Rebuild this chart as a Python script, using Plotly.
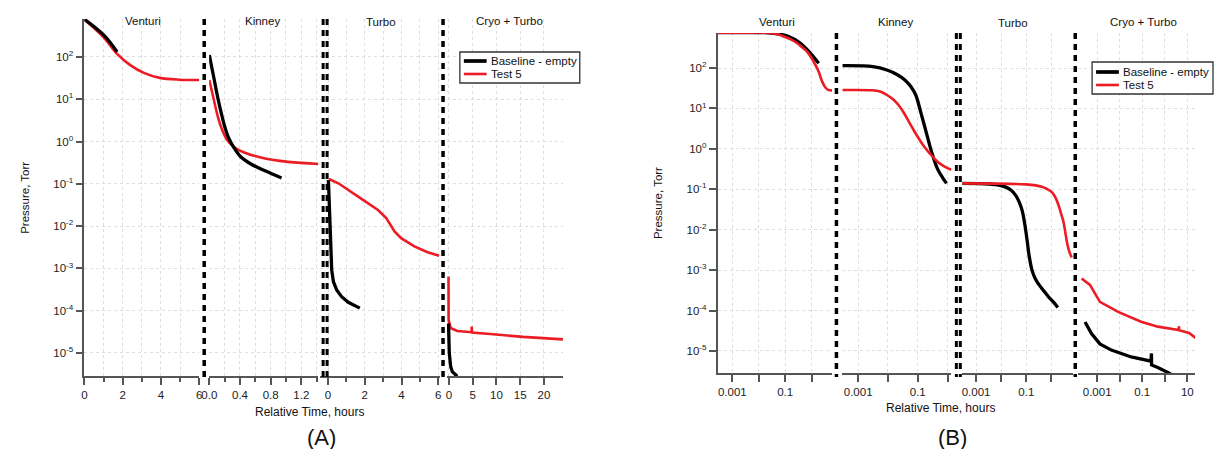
import plotly.graph_objects as go

W, H = 1217, 449

# ---------------- data, panel (A): linear time axes ----------------
a_vent_base_t = [0.0, 1.04, 1.71]
a_vent_base_p = [780, 320, 132]
a_vent_test_t = [0.0, 1.04, 1.71, 2.38, 3.11, 3.94, 4.97, 6.0]
a_vent_test_p = [760, 280, 118, 65, 42, 32, 29, 28.5]

a_kin_base_t = [0.0, 0.052, 0.103, 0.155, 0.206, 0.258, 0.323, 0.413, 0.542, 0.735, 0.942]
a_kin_base_p = [111, 37.5, 12.6, 4.74, 2.1, 1.15, 0.71, 0.43, 0.295, 0.20, 0.138]
a_kin_test_t = [0.0, 0.039, 0.077, 0.116, 0.168, 0.232, 0.323, 0.439, 0.645, 1.03, 1.43]
a_kin_test_p = [28.6, 14.1, 6.95, 3.6, 1.88, 1.09, 0.745, 0.567, 0.432, 0.33, 0.295]

a_turbo_base_t = [0.02, 0.09, 0.14, 0.2, 0.29, 0.47, 0.74, 1.1, 1.73]
a_turbo_base_p = [0.123, 0.0166, 2.75e-3, 9.1e-4, 4.9e-4, 3.1e-4, 2.14e-4, 1.58e-4, 1.15e-4]
a_turbo_test_t = [0.05, 0.56, 1.64, 2.72, 3.17, 3.62, 3.98, 4.70, 5.42, 6.05]
a_turbo_test_p = [0.13, 0.103, 0.050, 0.024, 0.0154, 0.0075, 0.0052, 0.0033, 0.0024, 0.0020]

a_cryo_base_t = [-0.1, 0.06, 0.35, 0.69, 1.73]
a_cryo_base_p = [5.0e-5, 1.0e-5, 4.8e-6, 3.6e-6, 2.8e-6]
a_cryo_test_t = [-0.1, -0.08, 0.35, 1.73, 4.75, 4.8, 4.85, 8.7, 15.6, 24.0]
a_cryo_test_p = [6.4e-4, 6.0e-5, 3.9e-5, 3.3e-5, 3.1e-5, 4.2e-5, 3.05e-5, 2.8e-5, 2.4e-5, 2.1e-5]

# ---------------- data, panel (B): log time axes ----------------
b_vent_base_t = [2.9e-4, 3.2e-3, 0.0162, 0.0513, 0.123, 0.38, 0.91, 1.86]
b_vent_base_p = [750, 750, 752, 700, 617, 410, 231, 131]
b_vent_test_t = [2.9e-4, 3.2e-3, 0.0162, 0.0513, 0.0912, 0.162, 0.288, 0.437, 0.684,
                 1.20, 1.86, 2.51, 3.31, 4.42, 5.89]
b_vent_test_p = [750, 750, 748, 692, 596, 513, 410, 324, 252, 143, 81, 46, 33, 28.5, 28]

b_kin_base_t = [2.93e-4, 3.16e-3, 9.27e-3, 0.02, 0.0369, 0.0585, 0.0857, 0.126, 0.2,
                0.293, 0.465, 0.681, 0.927]
b_kin_base_p = [114, 108, 89, 69, 50.5, 34.8, 21.5, 8.1, 2.32, 0.83, 0.315, 0.195, 0.14]
b_kin_test_t = [2.93e-4, 2.93e-3, 5.41e-3, 9.27e-3, 0.0158, 0.0251, 0.0369, 0.0541,
                0.0794, 0.117, 0.171, 0.251, 0.369, 0.541, 0.857, 1.36]
b_kin_test_p = [28.5, 28.1, 26.2, 21.5, 16.1, 11.0, 7.06, 4.28, 2.61, 1.65, 1.09, 0.774,
                0.565, 0.437, 0.355, 0.304]

b_turbo_base_t = [2.8e-4, 3.27e-3, 8.11e-3, 0.0153, 0.0242, 0.0371, 0.0501, 0.0676,
                  0.0865, 0.107, 0.130, 0.168, 0.225, 0.309, 0.488, 0.767, 1.21, 1.79]
b_turbo_base_p = [0.140, 0.135, 0.127, 0.113, 0.0955, 0.0718, 0.051, 0.0305, 0.0138,
                  5.53e-3, 2.22e-3, 1.0e-3, 6.17e-4, 4.5e-4, 3.11e-4, 2.18e-4, 1.61e-4, 1.19e-4]
b_turbo_test_t = [2.8e-4, 8.11e-3, 0.0946, 0.236, 0.418, 0.64, 1.04, 1.45, 1.91, 2.39,
                  3.01, 3.61, 4.32, 5.19, 6.4]
b_turbo_test_p = [0.140, 0.138, 0.132, 0.125, 0.115, 0.103, 0.0853, 0.0624, 0.0406,
                  0.0258, 0.0157, 8.24e-3, 4.31e-3, 2.84e-3, 2.06e-3]

b_cryo_base_t = [2.9e-4, 5.6e-4, 1.32e-3, 4.27e-3, 0.0324, 0.245, 0.257, 0.26, 0.49, 1.86]
b_cryo_base_p = [5.2e-5, 2.7e-5, 1.5e-5, 1.05e-5, 7.1e-6, 5.6e-6, 8.7e-6, 4.5e-6, 3.9e-6, 2.7e-6]
b_cryo_test_t = [2.04e-4, 4.8e-4, 1.32e-3, 8.5e-3, 0.089, 0.49, 4.17, 4.27, 4.32, 12.0, 23.4]
b_cryo_test_p = [6.2e-4, 4.3e-4, 1.64e-4, 9.3e-5, 5.3e-5, 4.0e-5, 3.3e-5, 4.1e-5, 3.25e-5, 2.8e-5, 2.1e-5]

segment_names = ["Venturi", "Kinney", "Turbo", "Cryo + Turbo"]
series_names = ["Baseline - empty", "Test 5"]
y_tick_vals = [1e-5, 1e-4, 1e-3, 1e-2, 1e-1, 1e0, 1e1, 1e2]
y_tick_text = ["10<sup>-5</sup>", "10<sup>-4</sup>", "10<sup>-3</sup>", "10<sup>-2</sup>",
               "10<sup>-1</sup>", "10<sup>0</sup>", "10<sup>1</sup>", "10<sup>2</sup>"]
b_x_label_vals = [0.001, 0.1, 10]
b_x_label_text = ["0.001", "0.1", "10"]
b_x_minor_vals = [0.01, 1]

# ---------------- layout constants (pixels) ----------------
FONT = "Liberation Sans, Arial, sans-serif"
BLACK = "#000000"
RED = "#ec1c24"
AX = "#555555"
GRID = "#dedede"
BW_BASE, BW_TEST = 3.3, 2.6

A_XDOM = [(77, 193), (203, 313), (315, 436), (443, 560)]
A_YDOM = (19, 376)
B_XDOM = [(716, 832), (842, 952), (963, 1075), (1080, 1198)]
B_YDOM = (33, 373)
A_SEP = [198, 318, 322, 439]
B_SEP = [836, 957, 961, 1077]
A_LEG = dict(box=(456, 52, 577, 83), sx=(460, 483), tx=486, rows=(61, 74))
B_LEG = dict(box=(1094, 62, 1216, 94), sx=(1098, 1121), tx=1124, rows=(72, 85))


def fx(p):
    return p / W


def fy(p):
    return 1 - p / H


fig = go.Figure()

a_data = [
    (a_vent_base_t, a_vent_base_p, a_vent_test_t, a_vent_test_p, "spline"),
    (a_kin_base_t, a_kin_base_p, a_kin_test_t, a_kin_test_p, "spline"),
    (a_turbo_base_t, a_turbo_base_p, a_turbo_test_t, a_turbo_test_p, "linear"),
    (a_cryo_base_t, a_cryo_base_p, a_cryo_test_t, a_cryo_test_p, "linear"),
]
b_data = [
    (b_vent_base_t, b_vent_base_p, b_vent_test_t, b_vent_test_p, "spline"),
    (b_kin_base_t, b_kin_base_p, b_kin_test_t, b_kin_test_p, "spline"),
    (b_turbo_base_t, b_turbo_base_p, b_turbo_test_t, b_turbo_test_p, "spline"),
    (b_cryo_base_t, b_cryo_base_p, b_cryo_test_t, b_cryo_test_p, "linear"),
]


def add_pair(xa, ya, seg, base_on_top):
    bt, bp, tt, tp, shp = seg
    base = go.Scatter(x=bt, y=bp, mode="lines", name=series_names[0],
                      line=dict(color=BLACK, width=BW_BASE, shape=shp, smoothing=1.0),
                      xaxis=xa, yaxis=ya, showlegend=False)
    test = go.Scatter(x=tt, y=tp, mode="lines", name=series_names[1],
                      line=dict(color=RED, width=BW_TEST, shape=shp, smoothing=1.0),
                      xaxis=xa, yaxis=ya, showlegend=False)
    if base_on_top:
        fig.add_trace(test)
        fig.add_trace(base)
    else:
        fig.add_trace(base)
        fig.add_trace(test)


for i, seg in enumerate(a_data):
    add_pair("x" if i == 0 else f"x{i+1}", "y", seg, True)
for i, seg in enumerate(b_data):
    add_pair(f"x{i+5}", "y2", seg, False)

tickfont = dict(family=FONT, size=11.5, color="#222222")
common = dict(showline=True, linecolor=AX, linewidth=1.5, ticks="outside", ticklen=7,
              tickwidth=1.5, tickcolor=AX, tickfont=tickfont, showgrid=True,
              gridcolor=GRID, griddash="dot", gridwidth=1, zeroline=False,
              fixedrange=True)


def minor(dt=None, vals=None, length=4):
    m = dict(ticks="outside", ticklen=length, tickwidth=1.5, tickcolor=AX,
             showgrid=True, gridcolor=GRID, griddash="dot", gridwidth=1)
    if vals is not None:
        m.update(tickmode="array", tickvals=vals)
    else:
        m.update(dtick=dt)
    return m


lay = {}
a_specs = [
    dict(range=[-0.005, 6.005], tick0=0, dtick=2, minor=minor(1)),
    dict(range=[-0.002, 1.42], tick0=0, dtick=0.4, tickformat=".1f", minor=minor(0.2)),
    dict(range=[-0.43, 6.1], tick0=0, dtick=2, minor=minor(1)),
    dict(range=[-0.42, 24.0], tick0=0, dtick=5),
]
for i, spec in enumerate(a_specs):
    key = "xaxis" if i == 0 else f"xaxis{i+1}"
    d = dict(common)
    d.update(spec)
    d.update(domain=[fx(A_XDOM[i][0]), fx(A_XDOM[i][1])], anchor="y", tickmode="linear")
    lay[key] = d

b_ranges = [[-3.56, 0.79], [-3.53, 0.13], [-3.55, 0.87], [-3.84, 1.35]]
for i, rg in enumerate(b_ranges):
    d = dict(common)
    d.update(type="log", range=rg, tickmode="array", tickvals=b_x_label_vals,
             ticktext=b_x_label_text, minor=minor(vals=b_x_minor_vals, length=7),
             domain=[fx(B_XDOM[i][0]), fx(B_XDOM[i][1])], anchor="y2")
    lay[f"xaxis{i+5}"] = d

ycommon = dict(common)
ycommon.update(type="log", tickmode="array", tickvals=y_tick_vals, ticktext=y_tick_text)
ya = dict(ycommon)
ya.update(domain=[fy(A_YDOM[1]), fy(A_YDOM[0])], anchor="x", range=[-5.545, 2.898])
yb = dict(ycommon)
yb.update(domain=[fy(B_YDOM[1]), fy(B_YDOM[0])], anchor="x5", range=[-5.545, 2.866])
lay["yaxis"] = ya
lay["yaxis2"] = yb

shapes = []
for sx in A_SEP:
    w = 3.0 if sx in (318, 322) else 3.5
    shapes.append(dict(type="line", xref="paper", yref="paper", x0=fx(sx), x1=fx(sx),
                       y0=fy(A_YDOM[0]), y1=fy(A_YDOM[1] + 6),
                       line=dict(color=BLACK, width=w, dash="6px,5px")))
for sx in B_SEP:
    w = 3.0 if sx in (957, 961) else 3.5
    shapes.append(dict(type="line", xref="paper", yref="paper", x0=fx(sx), x1=fx(sx),
                       y0=fy(B_YDOM[0]), y1=fy(B_YDOM[1] + 4),
                       line=dict(color=BLACK, width=w, dash="6px,5px")))

ann = []


def text(t, px, py, size=11.5, angle=0, anchor="center"):
    ann.append(dict(text=t, x=fx(px), y=fy(py), xref="paper", yref="paper",
                    showarrow=False, xanchor=anchor, yanchor="middle", textangle=angle,
                    borderpad=0, font=dict(family=FONT, size=size, color="#111")))


for leg in (A_LEG, B_LEG):
    l, t, r, b = leg["box"]
    shapes.append(dict(type="rect", xref="paper", yref="paper", x0=fx(l), x1=fx(r),
                       y0=fy(b), y1=fy(t), line=dict(color="#333", width=1.3),
                       fillcolor="white", layer="above"))
    for name, col, wd, ry in zip(series_names, (BLACK, RED), (BW_BASE + 0.4, BW_TEST),
                                 leg["rows"]):
        shapes.append(dict(type="line", xref="paper", yref="paper",
                           x0=fx(leg["sx"][0]), x1=fx(leg["sx"][1]), y0=fy(ry), y1=fy(ry),
                           line=dict(color=col, width=wd), layer="above"))
        text(name, leg["tx"], ry, size=11.5, anchor="left")

a_title_pos = [(136, 21), (257, 21), (376, 22), (506, 21)]
b_title_pos = [(776, 22), (896, 22), (1014, 23), (1146, 22)]
for name, (px, py) in zip(segment_names, a_title_pos):
    text(name, px, py)
for name, (px, py) in zip(segment_names, b_title_pos):
    text(name, px, py)
for (px, py) in [(304, 412), (941, 408)]:
    text("Relative Time, hours", px, py, size=12)
for (px, py) in [(17, 198), (656, 203)]:
    text("Pressure, Torr", px, py, angle=-90)
text("(A)", 316, 437, size=22)
text("(B)", 953, 437, size=22)

fig.update_layout(width=W, height=H, autosize=False,
                  margin=dict(l=0, r=0, t=0, b=0, pad=0),
                  paper_bgcolor="white", plot_bgcolor="white",
                  font=dict(family=FONT), shapes=shapes, annotations=ann,
                  showlegend=False, **lay)

fig.write_html("out.html")
